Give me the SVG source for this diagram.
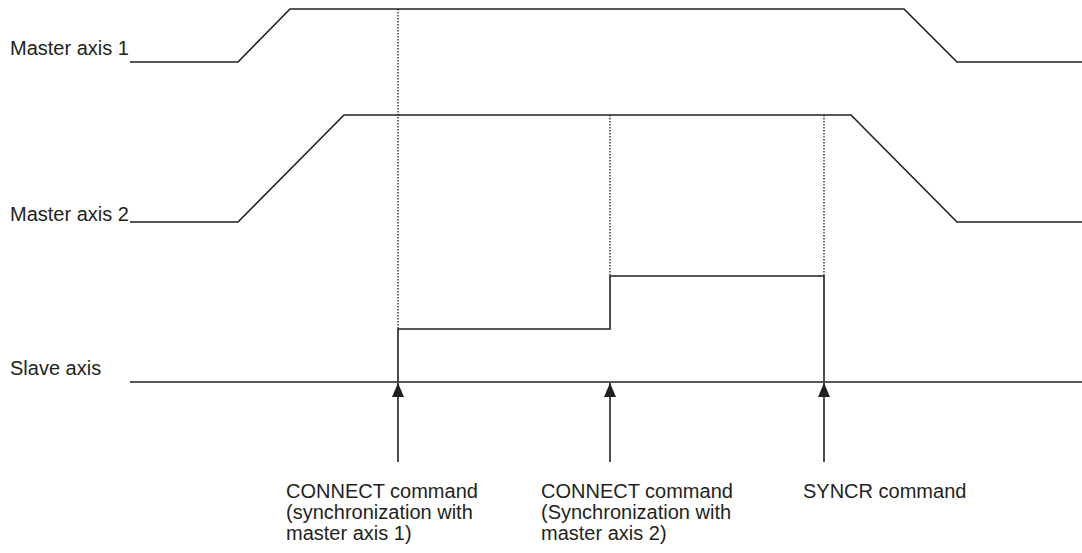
<svg xmlns="http://www.w3.org/2000/svg" width="1082" height="553" viewBox="0 0 1082 553">
<defs>
<style>
.ln{fill:none;stroke:#231f20;stroke-width:1.6;stroke-linejoin:miter}
.dt{fill:none;stroke:#231f20;stroke-width:1.3;stroke-dasharray:1.5 1.5}
.tx{font-family:"Liberation Sans",Arial,sans-serif;font-size:20px;fill:#231f20}
</style>
<marker id="ah" viewBox="0 0 14 12" refX="14" refY="6" markerWidth="14" markerHeight="12" markerUnits="userSpaceOnUse" orient="auto">
<path d="M0,0 L14,6 L0,12 Z" fill="#231f20"/>
</marker>
</defs>
<rect width="1082" height="553" fill="#fff"/>
<g id="master1">
<text class="tx" x="10" y="55">Master axis 1</text>
<path class="ln" d="M130,62 H238 L290,9 H904 L957,62 H1082"/>
</g>
<g id="master2">
<text class="tx" x="10" y="221">Master axis 2</text>
<path class="ln" d="M130,222 H238 L344,115 H851 L957,222 H1082"/>
</g>
<g id="slave">
<text class="tx" x="10" y="375">Slave axis</text>
<path class="ln" d="M130,382 H1082"/>
<path class="ln" d="M398,382 V329 H610 V276 H824 V382"/>
</g>
<g id="guides">
<line class="dt" x1="398" y1="9" x2="398" y2="329"/>
<line class="dt" x1="610" y1="115" x2="610" y2="276"/>
<line class="dt" x1="824" y1="115" x2="824" y2="276"/>
</g>
<g id="connectors">
<line class="ln" x1="398" y1="462" x2="398" y2="383" marker-end="url(#ah)"/>
<line class="ln" x1="610" y1="462" x2="610" y2="383" marker-end="url(#ah)"/>
<line class="ln" x1="824" y1="462" x2="824" y2="383" marker-end="url(#ah)"/>
</g>
<g id="cmd1">
<text class="tx" x="286" y="498">CONNECT command</text>
<text class="tx" x="286" y="519">(synchronization with</text>
<text class="tx" x="286" y="540">master axis 1)</text>
</g>
<g id="cmd2">
<text class="tx" x="541" y="498">CONNECT command</text>
<text class="tx" x="541" y="519">(Synchronization with</text>
<text class="tx" x="541" y="540">master axis 2)</text>
</g>
<g id="cmd3">
<text class="tx" x="803" y="498">SYNCR command</text>
</g>
</svg>
